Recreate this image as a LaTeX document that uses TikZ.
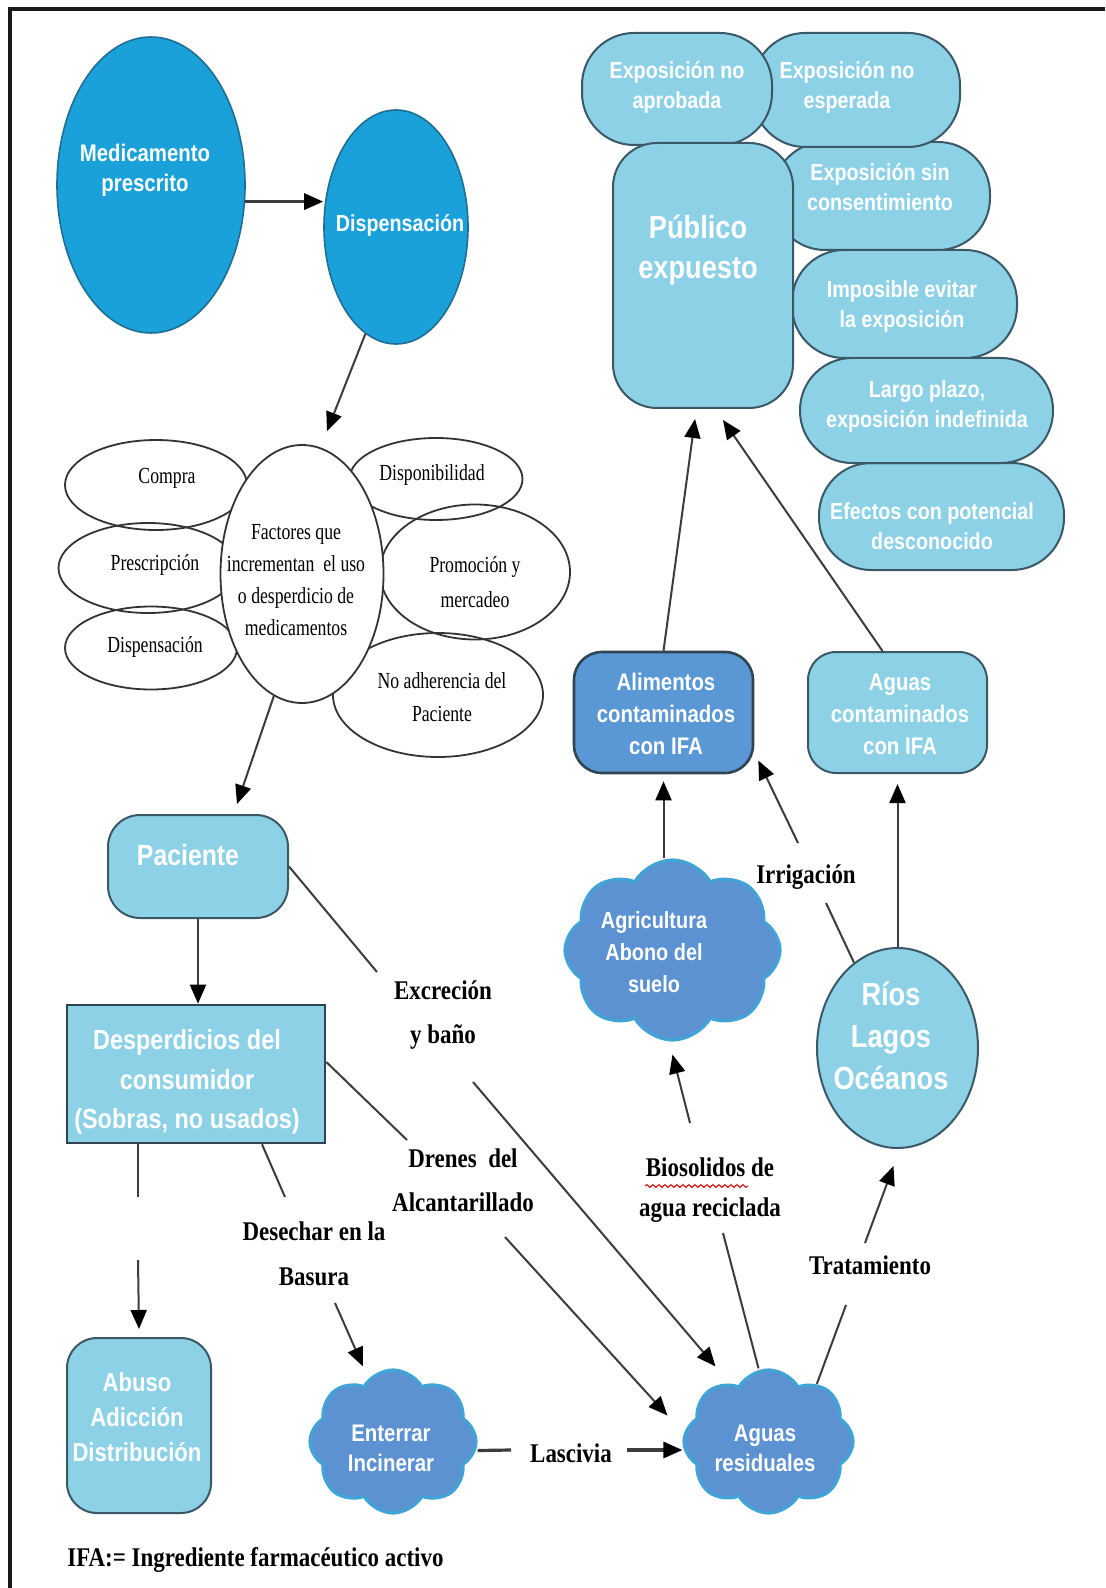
\documentclass[tikz,border=0pt]{standalone}
\usepackage{fontspec}
\setmainfont{Liberation Serif}
\newfontfamily\wsf[FakeStretch=0.85]{Liberation Sans}
\newfontfamily\bsf[FakeStretch=0.85]{Liberation Serif}
\newfontfamily\rsf[FakeStretch=0.77]{Liberation Serif}
\usetikzlibrary{arrows.meta,shapes.geometric,shapes.symbols,decorations.pathmorphing}
\newcommand\fsz[2]{\fontsize{#1pt}{#2pt}\selectfont}
\definecolor{bblue}{HTML}{1BA1D9}
\definecolor{bbord}{HTML}{1F6E93}
\definecolor{lblue}{HTML}{8DD1E7}
\definecolor{dslate}{HTML}{3B5866}
\definecolor{mblue}{HTML}{5A97D5}
\definecolor{cblue}{HTML}{5C92D2}
\definecolor{cbord}{HTML}{42A3D6}
\definecolor{lgray}{HTML}{3C3C3C}
\begin{document}
\begin{tikzpicture}[x=0.5pt,y=-0.5pt,
  wt/.style 2 args={text=white, align=center, inner sep=0pt, font=\wsf\bfseries\fsz{#1}{#2}},
  bt/.style 2 args={text=black, align=center, inner sep=0pt, font=\bsf\bfseries\fsz{#1}{#2}},
  ft/.style 2 args={text=black, align=center, inner sep=0pt, font=\rsf\fsz{#1}{#2}},
  bell/.style={ellipse, draw=bbord, line width=0.8pt, fill=bblue, inner sep=0pt},
  stad/.style={rectangle, draw=dslate, line width=1pt, fill=lblue, inner sep=0pt, rounded corners=26pt},
  lbox/.style={rectangle, draw=dslate, line width=1pt, fill=lblue, inner sep=0pt},
  fel/.style={ellipse, draw=black!80, line width=0.9pt, inner sep=0pt},
  cld/.style={cloud, cloud puffs=8, cloud puff arc=120, aspect=1.1, draw=cbord, line width=1.6pt, fill=cblue, inner sep=0pt},
  ln/.style={draw=lgray, line width=1pt},
  arr/.style={draw=lgray, line width=1pt, -{Triangle[length=9.5pt,width=8pt,color=black]}}
]
\fill[white] (0,0) rectangle (1105,1588);
\useasboundingbox (0,0) rectangle (1105,1588);
\draw[line width=2pt, line join=miter, black!90] (10,1588) -- (10,9) -- (1105,9);

% top-left ellipses
\node[bell, minimum width=94pt, minimum height=148pt] (med) at (151,185) {};
\node[wt={12}{15}] (medt) at (145,170) {Medicamento\\prescrito};
\node[bell, minimum width=72pt, minimum height=117pt] (disp) at (396,227) {};
\node[wt={11.6}{14}] (dispt) at (400,225) {Dispensación};

% exposure cluster
\node[stad, minimum width=122.5pt, minimum height=53.5pt] (efe) at (941.5,516.5) {};
\node[stad, minimum width=126.5pt, minimum height=52.5pt] (lar) at (926.5,410.5) {};
\node[stad, minimum width=112.5pt, minimum height=54pt] (imp) at (904.5,304) {};
\node[stad, minimum width=108.5pt, minimum height=54pt] (sin) at (881.5,196) {};
\node[stad, minimum width=103.5pt, minimum height=57pt] (esp) at (856.5,90) {};
\node[stad, minimum width=95pt, minimum height=56pt] (apr) at (677,89) {};
\node[lbox, rounded corners=22pt, minimum width=90pt, minimum height=132.5pt] (pub) at (703,275.5) {};
\node[wt={11.6}{15}] (aprt) at (677,87) {Exposición no\\aprobada};
\node[wt={11.6}{15}] (espt) at (847,87) {Exposición no\\esperada};
\node[wt={11.6}{15}] (sint) at (880,187) {Exposición sin\\consentimiento};
\node[wt={11.6}{15}] (impt) at (902,307) {Imposible evitar\\la exposición};
\node[wt={11.6}{15}] (lart) at (927,407) {Largo plazo,\\exposición indefinida};
\node[wt={11.6}{15}] (efet) at (932,526) {Efectos con potencial\\desconocido};
\node[wt={16}{20}] (pubt) at (698,250) {Público\\expuesto};

% factors cluster
\node[fel, minimum width=91pt, minimum height=45pt] (compra) at (156,485) {};
\node[fel, minimum width=89.5pt, minimum height=45pt] (presc) at (148,568) {};
\node[fel, minimum width=86pt, minimum height=41.5pt] (dispf) at (151,648) {};
\node[fel, minimum width=86.5pt, minimum height=41pt] (dispo) at (436,479) {};
\node[fel, minimum width=95pt, minimum height=67.5pt] (promo) at (475,572) {};
\node[fel, minimum width=105pt, minimum height=62pt] (noadh) at (438,695) {};
\node[fel, fill=white, minimum width=81.5pt, minimum height=129pt] (fac) at (302,574) {};
\node[ft={11.5}{16}] (comprat) at (167,478) {Compra};
\node[ft={11.5}{16}] (presct) at (155,565) {Prescripción};
\node[ft={11.5}{16}] (dispft) at (155,647) {Dispensación};
\node[ft={11.5}{16}] (dispot) at (432,475) {Disponibilidad};
\node[ft={11.5}{17.5}] (promot) at (475,582) {Promoción y\\mercadeo};
\node[ft={11.5}{16.5}] (noadht) at (442,697) {No adherencia del\\Paciente};
\node[ft={11.5}{16}] (fact) at (296,580) {Factores que\\incrementan\ \ el uso\\o desperdicio de\\medicamentos};

% left column
\node[lbox, rounded corners=16pt, minimum width=90pt, minimum height=51.5pt] (pac) at (198,866.5) {};
\node[wt={14.6}{18}] (pact) at (188,855) {Paciente};
\node[lbox, draw=dslate!80!black, line width=1.3pt, minimum width=129pt, minimum height=69pt] (desp) at (196,1074) {};
\node[wt={13.8}{19.75}] (despt) at (187,1082) {Desperdicios del\\consumidor\\(Sobras, no usados)};
\node[lbox, rounded corners=15pt, minimum width=72pt, minimum height=87.5pt] (abuso) at (139,1425.5) {};
\node[wt={13}{17.5}] (abusot) at (137,1417) {Abuso\\Adicción\\Distribución};

% clouds
\node[cld, minimum width=83pt, minimum height=71.5pt] (ent) at (393,1441.5) {};
\node[wt={12}{15}] (entt) at (391,1448) {Enterrar\\Incinerar};
\node[cld, minimum width=84.5pt, minimum height=71.5pt] (ares) at (768.5,1441.5) {};
\node[wt={12}{15}] (arest) at (765,1448) {Aguas\\residuales};
\node[cld, minimum width=107.5pt, minimum height=90pt] (agric) at (672.5,950) {};
\node[wt={11.7}{16}] (agrict) at (654,952) {Agricultura\\Abono del\\suelo};

% contaminated boxes
\node[lbox, fill=mblue, draw=dslate!80!black, line width=1.3pt, rounded corners=14pt, minimum width=89.5pt, minimum height=60.5pt] (alim) at (663.5,712.5) {};
\node[wt={12}{16}] (alimt) at (666,714) {Alimentos\\contaminados\\con IFA};
\node[lbox, rounded corners=14pt, minimum width=89.5pt, minimum height=60.5pt] (acont) at (897.5,712.5) {};
\node[wt={12}{16}] (acontt) at (900,714) {Aguas\\contaminados\\con IFA};
\node[ellipse, draw=dslate, line width=1pt, fill=lblue, inner sep=0pt, minimum width=80.5pt, minimum height=100pt] (rios) at (897.5,1048) {};
\node[wt={16}{21}] (riost) at (891,1036) {Ríos\\Lagos\\Océanos};

% labels
\node[bt={13.5}{22}] (exc) at (443,1015) {Excreción\\y baño};
\node[bt={13.5}{22}] (dren) at (463,1180) {Drenes\ \ del\\Alcantarillado};
\node[bt={13.5}{22.5}] (desech) at (314,1254) {Desechar en la\\Basura};
\node[bt={13.5}{20}] (lasc) at (571,1453) {Lascivia};
\node[bt={13.5}{20}] (bio) at (710,1190) {Biosolidos de\\agua reciclada};
\node[bt={13.5}{20}] (trat) at (870,1265) {Tratamiento};
\node[bt={13.5}{20}] (irr) at (806,877) {Irrigación};
\node[bt={13.5}{20}, anchor=west] (ifa) at (67,1560) {IFA:= Ingrediente farmacéutico activo};
\draw[red!85!black, line width=0.5pt, decorate, decoration={snake, amplitude=0.7pt, segment length=3pt}] (645,1186) -- (748,1186);

% gap coordinates
\coordinate (exc1) at (377,972);  \coordinate (exc2) at (473,1082);
\coordinate (dr1) at (407,1140);  \coordinate (dr2) at (505,1237);
\coordinate (de1) at (285,1197);  \coordinate (de2) at (335,1303);
\coordinate (ab1) at (138,1197);  \coordinate (ab2) at (138,1260);
\coordinate (la1) at (511,1450);  \coordinate (la2) at (627,1450);
\coordinate (bi1) at (723,1233);  \coordinate (bi2) at (690,1123);
\coordinate (tr1) at (846,1305);  \coordinate (tr2) at (865,1243);
\coordinate (ir1) at (826,903);   \coordinate (ir2) at (798,843);

% connectors
\draw[arr, line width=1.6pt] (med.-10) -- (med.-10 -| disp.west);
\draw[arr] (disp.-106) -- ([xshift=12.5pt,yshift=6.5pt]fac.north);
\draw[arr] (fac.-103) -- ([xshift=19.5pt,yshift=5pt]pac.north);
\draw[arr] (pac.south) -- (pac.south |- desp.north);
\draw[ln] (pac.east) -- (exc1);
\draw[arr] (exc2) -- ([xshift=-26.5pt,yshift=1pt]ares.north);
\draw[ln] ([yshift=6pt]desp.east) -- (dr1);
\draw[arr] (dr2) -- ([xshift=-7.5pt,yshift=13pt]ares.west);
\draw[ln] ([xshift=33pt]desp.south) -- (de1);
\draw[arr] (de2) -- ([xshift=-15pt,yshift=1pt]ent.north);
\draw[ln] ([xshift=-29pt]desp.south) -- (ab1);
\draw[arr] (ab2) -- ([yshift=4pt]abuso.north);
\draw[ln, line width=1.6pt] ([yshift=-4.5pt]ent.east) -- (la1);
\draw[arr, line width=1.6pt] (la2) -- (la2 -| ares.west);
\draw[ln] ([xshift=-5pt]ares.north) -- (bi1);
\draw[arr] (bi2) -- ([yshift=-6.5pt]agric.south);
\draw[ln] (ares.50) -- (tr1);
\draw[arr] (tr2) -- ([xshift=-2pt,yshift=-8.5pt]rios.south);
\draw[arr] (rios.north) -- ([yshift=-5pt]acont.south);
\draw[ln] (rios.117) -- (ir1);
\draw[arr] (ir2) -- ([xshift=2pt,yshift=-24pt]alim.east);
\draw[arr] (agric.north -| alim.south) -- ([yshift=-3.5pt]alim.south);
\draw[arr] (alim.north) -- ([xshift=-4pt,yshift=-5pt]pub.south);
\draw[arr] ([xshift=-7.5pt]acont.north) -- ([xshift=10pt,yshift=-5.5pt]pub.south);
\end{tikzpicture}
\end{document}
